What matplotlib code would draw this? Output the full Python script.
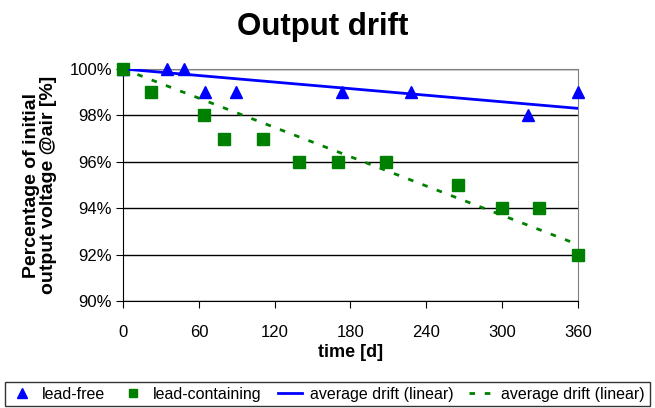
import numpy as np
import matplotlib
matplotlib.use('Agg')
import matplotlib.pyplot as plt
from matplotlib.ticker import FuncFormatter

plt.rcParams['font.family'] = ['Liberation Sans', 'DejaVu Sans']

# data
free_days = [0, 35, 48, 65, 89, 173, 228, 321, 360]
free_pct = [100, 100, 100, 99, 99, 99, 99, 98, 99]
lead_days = [0, 22, 64, 80, 111, 139, 170, 208, 265, 300, 329, 360]
lead_pct = [100, 99, 98, 97, 97, 96, 96, 96, 95, 94, 94, 92]
x_ticks = [0, 60, 120, 180, 240, 300, 360]


def slope_through_100(days, pct):
    # linear trend with intercept fixed at 100 %
    d = np.array(days, float)
    p = np.array(pct, float) - 100
    return (d * p).sum() / (d * d).sum()


fig = plt.figure(figsize=(6.55, 4.08), dpi=100)
ax = fig.add_axes([0.188, 0.262, 0.694, 0.569])

ax.plot(free_days, free_pct, linestyle='none', marker='^', color='#0000ff',
        markersize=9, label='lead-free', zorder=4, clip_on=False)
ax.plot(lead_days, lead_pct, linestyle='none', marker='s', color='#008000',
        markersize=8, label='lead-containing', zorder=4, clip_on=False)

xs = np.array([0, 360])
k1 = slope_through_100(free_days, free_pct)
k2 = slope_through_100(lead_days, lead_pct)
ax.plot(xs, 100 + k1 * xs, color='#0000ff', lw=2, label='average drift (linear)', zorder=5)
ax.plot(xs, 100 + k2 * xs, color='#008000', lw=2, linestyle=(0, (2, 3.5)),
        label='average drift (linear)', zorder=5)

ax.set_xlim(0, 360)
ax.set_ylim(90, 100)
ax.set_xticks(x_ticks)
ax.set_yticks(range(90, 101, 2))
ax.yaxis.set_major_formatter(FuncFormatter(lambda v, p: '%d%%' % v))
ax.grid(axis='y', color='black', lw=1)
ax.set_axisbelow(True)
ax.tick_params(labelsize=12, direction='out', length=5)
ax.tick_params(axis='x', pad=12)
ax.tick_params(axis='y', pad=3)
for s in ['top', 'right']:
    ax.spines[s].set_color('#808080')

ax.set_xlabel('time [d]', fontsize=13, fontweight='bold', labelpad=3)
ax.set_ylabel('Percentage of initial\noutput voltage @air [%]', fontsize=14,
              fontweight='bold', linespacing=1.0)
ax.yaxis.set_label_coords(-0.145, 0.5)
fig.text(0.493, 0.935, 'Output drift', ha='center', va='center',
         fontsize=22.5, fontweight='bold')

leg = fig.legend(loc='lower center', bbox_to_anchor=(0.5, 0.0), ncol=4,
                 fontsize=11.5, frameon=True, fancybox=False, handlelength=1.5,
                 columnspacing=1.0, handletextpad=0.5, borderpad=0.3,
                 borderaxespad=0.1, markerscale=0.8)
leg.get_frame().set_edgecolor('black')
leg.get_frame().set_linewidth(1)

fig.savefig('out.png', dpi=100)
